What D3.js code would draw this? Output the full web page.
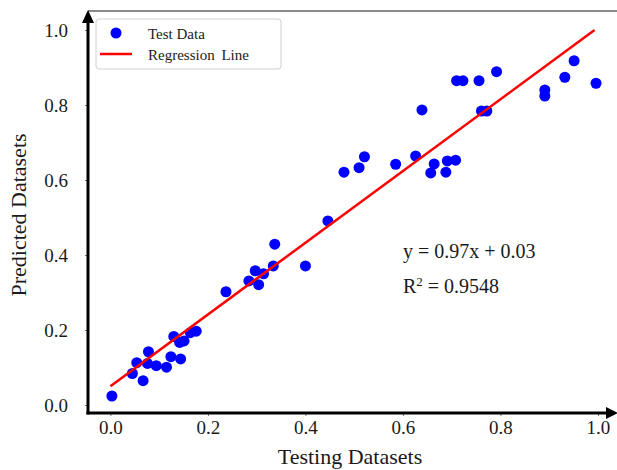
<!DOCTYPE html>
<html>
<head>
<meta charset="utf-8">
<script src="https://cdn.jsdelivr.net/npm/d3@7"></script>
<style>
  body { margin: 0; background: #fff; }
  svg { display: block; }
</style>
</head>
<body>
<div id="chart"></div>
<script>
// Test data: actual (testing) vs predicted values
const testX = [
  0.003, 0.045, 0.067, 0.054, 0.078, 0.076, 0.094, 0.115, 0.124, 0.144,
  0.130, 0.142, 0.151, 0.164, 0.176,
  0.237, 0.284, 0.297, 0.304, 0.314, 0.334, 0.337, 0.400,
  0.446, 0.479, 0.510, 0.521, 0.585, 0.626, 0.639, 0.657, 0.664,
  0.688, 0.691, 0.708, 0.710, 0.723, 0.756, 0.792, 0.761, 0.772,
  0.891, 0.891, 0.932, 0.951, 0.996
];
const predY = [
  0.024, 0.084, 0.065, 0.113, 0.142, 0.111, 0.105, 0.101, 0.129, 0.123,
  0.183, 0.167, 0.171, 0.193, 0.197,
  0.302, 0.331, 0.358, 0.321, 0.350, 0.371, 0.429, 0.371,
  0.491, 0.621, 0.633, 0.662, 0.642, 0.664, 0.787, 0.619, 0.643,
  0.621, 0.651, 0.653, 0.865, 0.865, 0.865, 0.889, 0.784, 0.784,
  0.840, 0.824, 0.874, 0.918, 0.858
];

// Regression line as drawn (end points)
const regX = [0.0, 0.993];
const regY = [0.05, 1.0];

const tickValues = [0.0, 0.2, 0.4, 0.6, 0.8, 1.0];
const legendLabels = ["Test Data", "Regression Line"];
const equationText = "y = 0.97x + 0.03";
const r2Text = "0.9548";

const width = 617, height = 470;
const plotLeft = 88, plotRight = 617, plotTop = 11, plotBottom = 413;
const font = "Liberation Serif, Times New Roman, serif";
const textColor = "#1a1a1a";

const svg = d3.select("#chart")
  .append("svg")
  .attr("width", width)
  .attr("height", height)
  .attr("font-family", font);

const x = d3.scaleLinear().domain([-0.046, 1.039]).range([plotLeft, plotRight]);
const y = d3.scaleLinear().domain([-0.0213, 1.0507]).range([plotBottom, plotTop]);

// Top frame line (gray)
svg.append("line")
  .attr("x1", plotLeft).attr("x2", plotRight)
  .attr("y1", plotTop).attr("y2", plotTop)
  .attr("stroke", "#8a8a8a")
  .attr("stroke-width", 2);

// Axes ticks + labels
const xAxis = svg.append("g")
  .attr("transform", `translate(0,${plotBottom})`)
  .call(d3.axisBottom(x).tickValues(tickValues).tickFormat(d3.format(".1f"))
    .tickSize(3).tickPadding(5));
const yAxis = svg.append("g")
  .attr("transform", `translate(${plotLeft},0)`)
  .call(d3.axisLeft(y).tickValues(tickValues).tickFormat(d3.format(".1f"))
    .tickSize(3).tickPadding(17));

[xAxis, yAxis].forEach(g => {
  g.attr("font-family", font).attr("font-size", 19);
  g.select(".domain").remove();
  g.selectAll(".tick line").attr("stroke", "#777");
  g.selectAll(".tick text").attr("fill", textColor);
});

// Data points
svg.append("g")
  .selectAll("circle")
  .data(testX.map((d, i) => [d, predY[i]]))
  .join("circle")
  .attr("cx", d => x(d[0]))
  .attr("cy", d => y(d[1]))
  .attr("r", 5.5)
  .attr("fill", "#0000ff");

// Regression line
svg.append("path")
  .datum(regX.map((d, i) => [d, regY[i]]))
  .attr("d", d3.line().x(d => x(d[0])).y(d => y(d[1])))
  .attr("fill", "none")
  .attr("stroke", "#ff0000")
  .attr("stroke-width", 2.5);

// Axis lines with arrow heads
const axisG = svg.append("g").attr("fill", "#000").attr("stroke", "#000");
axisG.append("line")
  .attr("x1", plotLeft).attr("x2", plotLeft)
  .attr("y1", plotBottom + 1.5).attr("y2", plotTop + 10)
  .attr("stroke-width", 3);
axisG.append("path")
  .attr("stroke", "none")
  .attr("d", `M${plotLeft - 6},${plotTop + 12} L${plotLeft + 6},${plotTop + 12} L${plotLeft},${plotTop - 1} Z`);
axisG.append("line")
  .attr("x1", plotLeft - 1.5).attr("x2", plotRight - 8)
  .attr("y1", plotBottom).attr("y2", plotBottom)
  .attr("stroke-width", 3);
axisG.append("path")
  .attr("stroke", "none")
  .attr("d", `M${plotRight - 11},${plotBottom - 6} L${plotRight - 11},${plotBottom + 6} L${plotRight + 1},${plotBottom} Z`);

// Axis titles
svg.append("text")
  .attr("x", 350)
  .attr("y", 464)
  .attr("text-anchor", "middle")
  .attr("fill", textColor)
  .attr("font-size", 22)
  .text("Testing Datasets");

svg.append("text")
  .attr("transform", "translate(26,215) rotate(-90)")
  .attr("text-anchor", "middle")
  .attr("fill", textColor)
  .attr("font-size", 22)
  .text("Predicted Datasets");

// Equation and R^2
const eq = svg.append("g")
  .attr("fill", textColor)
  .attr("font-size", 20);
eq.append("text").attr("x", 403).attr("y", 258).text(equationText);
const r2 = eq.append("text").attr("x", 403).attr("y", 293);
r2.append("tspan").text("R");
r2.append("tspan").attr("dy", -7).attr("font-size", 13).text("2");
r2.append("tspan").attr("dy", 7).text(" = " + r2Text);

// Legend
const legend = svg.append("g");
legend.append("rect")
  .attr("x", 96).attr("y", 19)
  .attr("width", 185).attr("height", 50)
  .attr("rx", 3)
  .attr("fill", "#fff")
  .attr("stroke", "#d0d0d0");
legend.append("circle")
  .attr("cx", 116).attr("cy", 33)
  .attr("r", 5.5)
  .attr("fill", "#0000ff");
legend.append("line")
  .attr("x1", 100).attr("x2", 132)
  .attr("y1", 54).attr("y2", 54)
  .attr("stroke", "#ff0000")
  .attr("stroke-width", 2.5);
legend.selectAll("text.lbl")
  .data(legendLabels)
  .join("text")
  .attr("class", "lbl")
  .attr("x", 148)
  .attr("y", (d, i) => 39 + i * 21)
  .attr("fill", textColor)
  .attr("font-size", 15)
  .attr("word-spacing", (d, i) => i === 1 ? 3 : null)
  .text(d => d);
</script>
</body>
</html>
